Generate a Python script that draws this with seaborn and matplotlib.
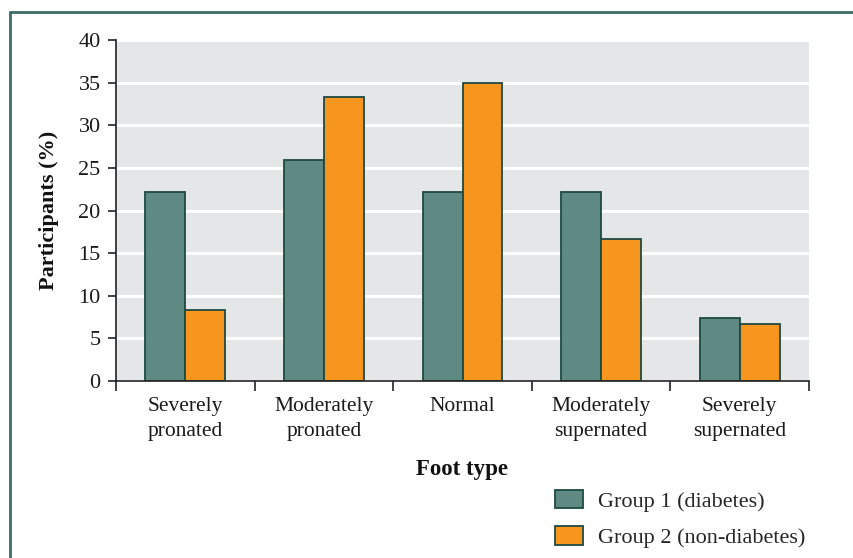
import matplotlib
matplotlib.use("Agg")
import matplotlib.pyplot as plt
import seaborn as sns
import pandas as pd
from matplotlib.patches import Patch
from matplotlib.lines import Line2D

categories = ["Severely\npronated", "Moderately\npronated", "Normal",
              "Moderately\nsupernated", "Severely\nsupernated"]
group_names = ["Group 1 (diabetes)", "Group 2 (non-diabetes)"]
group1 = [22.2, 25.9, 22.2, 22.2, 7.4]
group2 = [8.3, 33.3, 35.0, 16.7, 6.7]
y_ticks = [0, 5, 10, 15, 20, 25, 30, 35, 40]

df = pd.DataFrame({
    "Foot type": categories * 2,
    "Group": [group_names[0]] * len(categories) + [group_names[1]] * len(categories),
    "Participants": group1 + group2,
})

sns.set_theme(style="white")
plt.rcParams["font.family"] = ["Liberation Serif", "DejaVu Serif"]

W, H = 854, 558
fig = plt.figure(figsize=(W / 100, H / 100), dpi=100)
ax = fig.add_axes([116 / W, 1 - 381 / H, (809 - 116) / W, (381 - 40) / H])

colors = ["#5f8a84", "#f7961e"]
edge = "#1d4a41"

sns.barplot(data=df, x="Foot type", y="Participants", hue="Group",
            palette=colors, width=0.577, ax=ax, edgecolor=edge, linewidth=1.3,
            legend=False, saturation=1)

ax.set_facecolor("#e5e6e8")
ax.set_xlim(-0.5, 4.5)
ax.set_ylim(0, 40)
ax.set_yticks(y_ticks)
ax.yaxis.grid(True, color="white", linewidth=2.2)
ax.xaxis.grid(False)
ax.set_axisbelow(True)

for s in ["top", "right"]:
    ax.spines[s].set_visible(False)
for s in ["left", "bottom"]:
    ax.spines[s].set_visible(True)
    ax.spines[s].set_color("#222222")
    ax.spines[s].set_linewidth(1.2)

ax.tick_params(axis="y", which="major", direction="out", length=6, width=1.2,
               color="#222222", labelsize=16, pad=5, left=True)
ax.tick_params(axis="x", which="major", length=0, labelsize=15.5, pad=11.5)
ax.set_xticks(range(len(categories)))
ax.set_xticklabels(categories, linespacing=1.4, color="#1a1a1a")
ax.set_xticks([-0.5, 0.5, 1.5, 2.5, 3.5, 4.5], minor=True)
ax.tick_params(axis="x", which="minor", direction="out", length=7, width=1.2,
               color="#222222", bottom=True)
for lab in ax.get_yticklabels():
    lab.set_color("#1a1a1a")

ax.set_xlabel("Foot type", fontsize=16.5, fontweight="bold", labelpad=13, color="#111111")
ax.set_ylabel("Participants (%)", fontsize=16, fontweight="bold", labelpad=14, color="#111111")

# outer frame (clipped by the image on the right and bottom)
fig.add_artist(Line2D([10 / W, 1.0], [1 - 12 / H, 1 - 12 / H], transform=fig.transFigure,
                      color="#3d6b66", linewidth=2.0))
fig.add_artist(Line2D([10 / W, 10 / W], [0.0, 1 - 12 / H], transform=fig.transFigure,
                      color="#3d6b66", linewidth=2.0))

handles = [Patch(facecolor=colors[i], edgecolor=edge, linewidth=1.3) for i in range(2)]
fig.legend(handles, group_names, loc="upper left",
           bbox_to_anchor=(555 / W, 1 - 490 / H), frameon=False, fontsize=16,
           handlelength=1.26, handleheight=0.9, handletextpad=0.68,
           labelspacing=0.64, borderaxespad=0, borderpad=0.0)

fig.savefig("out.png", dpi=100, facecolor="white")
